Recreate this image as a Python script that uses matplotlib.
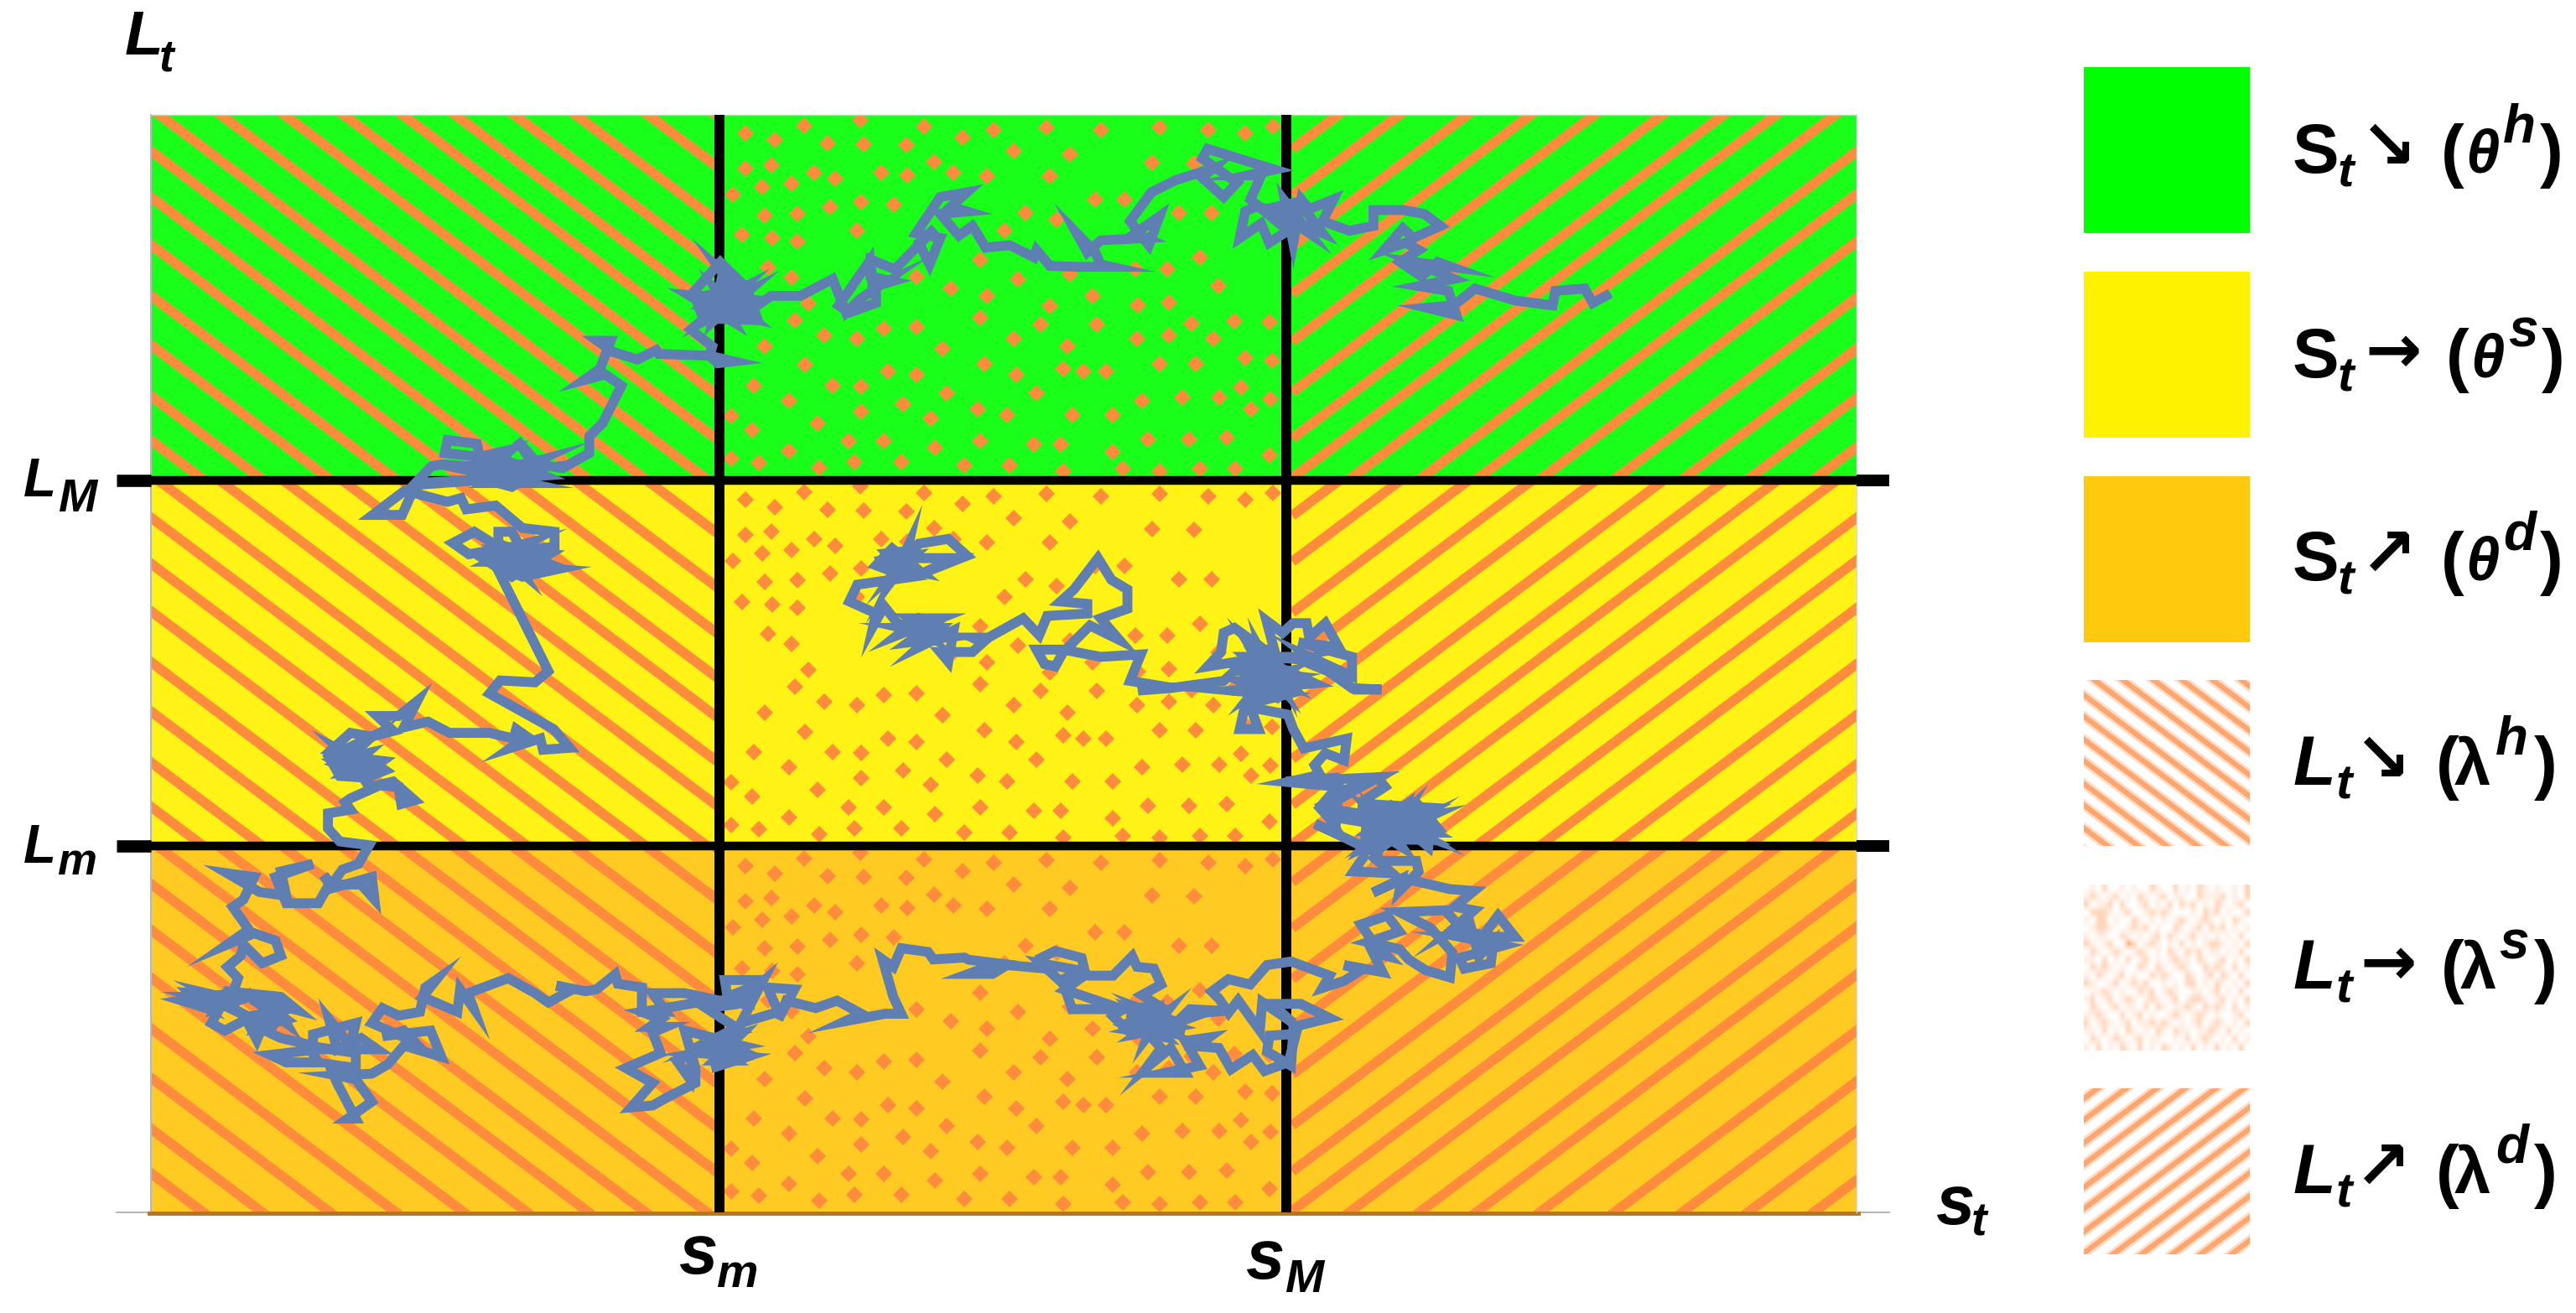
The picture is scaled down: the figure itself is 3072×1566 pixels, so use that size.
import numpy as np
import matplotlib
matplotlib.use('Agg')
import matplotlib.pyplot as plt
from matplotlib.colors import LinearSegmentedColormap
from matplotlib.patches import Rectangle

# layout is in units of the 1568x799 view
row_tops = [70, 293, 516]
row_height = 223
row_colors = ['#1aff1a', '#fff215', '#ffcb22']
stripe_color = '#ff8c3c'
path_color = '#5f7fb3'
slope = 0.75

# stripe intercepts at the left edge of a cell, relative to the top of the row
falling = [-288, -258, -227, -194, -166, -139, -115, -88, -61, -32, -4, 22, 50, 79, 110, 140, 171, 198, 228]
rising = [-10, 19, 47, 78, 107, 136, 167, 195, 219, 246, 278, 304, 333, 367, 398, 428, 458, 490]

dots_right = [(40,75),(160,88),(232,112),(290,95),(388,90),(490,95),(600,90),(692,95),(760,102),(812,88),
    (47,125),(127,127),(328,140),(432,147),(587,163),(665,165),(178,162),(80,185),(128,190),(215,185),
    (278,192),(395,192),(42,245),(103,250),(350,268),(408,282),(480,240),(535,240),(637,268),(698,268),
    (35,305),(310,305),(265,365),(145,400),(335,405),(432,395),(615,385),(675,360),(555,385),(210,425),
    (278,440),(475,440),(710,420),(395,462),(265,485),(560,460),(618,455),(660,498),(740,492),(805,495),
    (145,505),(85,508),(35,530),(328,530),(378,500),(482,500),(558,530),(618,522),(700,530),(195,550),
    (428,545),(760,570),(810,575),(272,582),(92,598),(145,605),(332,605),(420,592),(458,598),(500,598),
    (600,582),(668,582),(42,628),(752,630),(120,665),(202,643),(370,643),(568,658),(642,652),(712,652),
    (808,655),(42,680),(172,695),(260,675),(315,688),(438,688),(512,688),(772,675),(18,742),(85,742),
    (180,755),(265,742),(365,748),(415,748),(578,738),(655,738),(725,735),(30,785),(118,785),(235,793),
    (320,793),(512,765),(805,772),(420,805),(532,800),(600,805),(675,800),(742,800)]
dots_left = [(1237,355),(1292,375),(1347,335),(1390,382),(1237,450),(1285,440),(1365,462),(1405,478),
    (1213,520),(1268,500),(1323,490),(1273,575),(1335,570),(1395,553),(1230,628),(1287,635),(1335,645),
    (1280,715),(1323,742),(1355,810),(1330,855),(1385,895),(1273,925),(1348,975),(1253,1030),(1400,1030),
    (1318,1070),(1372,1130),(1250,1148),(1318,1205),(1210,1225),(1262,1235),(1375,1250),(1210,1110)]

# the walk, read piece by piece from four crops
walk_a = [(1435,440),(1410,455),(1395,425),(1340,430),(1335,460),(1265,450),(1190,425),(1150,460),(1100,465),
    (1155,480),(1140,430),(1085,420),(1150,405),(1075,370),(1145,380),(1120,370),(1090,400),(1050,370),(1085,345),
    (1060,330),(1020,345),(1055,300),(1075,320),(1125,295),(1095,270),(1055,262),(1000,262),(1000,295),(955,305),
    (905,285),(925,240),(880,260),(865,240),(850,330),(835,245),(880,310),(840,280),(905,310),(860,245),(800,260),
    (780,255),(760,265),(750,320),(790,290),(805,330),(840,305),(770,240),(790,190),(765,190),(815,178),(690,135),
    (680,155),(745,205),(720,235),(680,195),(700,175),(630,200),(585,225),(545,285),(580,335),(600,275),(555,310),
    (575,320),(490,325),(465,350),(445,310),(480,350),(490,375),(510,380),(450,380),(395,378),(370,345),(365,360),
    (320,335),(275,340),(250,295),(225,315),(190,270),(240,265),(210,255),(240,225),(190,235),(145,310),(190,320),
    (170,375),(150,330),(180,300),(105,385),(60,365),(60,400),(100,410),(70,420),(70,455),(20,475),(0,460)]
walk_b = [(1470,695),(1475,770),(1490,760),(1450,800),(1425,835),(1400,745),(1340,790),(1285,790),(1245,830),
    (1190,720),(1230,770),(1160,790),(1240,850),(1150,790),(1240,800),(1170,850),(1230,770),(1160,820),(1250,850),
    (1180,770),(1215,860),(1145,800),(1235,830),(1190,760),(1175,860),(1240,780),(1155,840),
    (1140,780),(1190,700),(1240,770),(1260,855),(1160,850),(1135,880),
    (1175,925),(1170,950),(1215,965),(1185,970),(1170,950),(1075,945),(1070,935),(1035,960),(990,940),(960,910),
    (985,910),(965,985),(935,1015),(975,1000),(1005,1030),(970,1130),(945,1165),(945,1210),(895,1250),(850,1240),
    (810,1175),(840,1240),(770,1240),(800,1200),(740,1220),(735,1185),(680,1175),(675,1210),(740,1220),(760,1250),
    (670,1240),(650,1245),(620,1290),(750,1280),(800,1300),(860,1250),(770,1265),(800,1260),(720,1280),(850,1230),
    (760,1290),(830,1290),(700,1250),(790,1230),(860,1270),(620,1295),(595,1375),(540,1375),
    (600,1310),(680,1340),(705,1330),(715,1360),(770,1350),(820,1410),(880,1420),(880,1460),(820,1470),(800,1420),
    (775,1420),(775,1460),(730,1420),(690,1450),(720,1480),(800,1460),(830,1450),(760,1500),(860,1500),(790,1460),
    (820,1530),(770,1470),(870,1480),(800,1540),(745,1490),(790,1510),(885,1520),(820,1540),(770,1510)]
walk_c = [(790,0),(765,30),(700,25),(680,60),(800,155),(830,205),(780,210),(775,180),(720,205),(750,175),(730,155),
    (725,180),(680,165),(605,165),(565,135),(520,150),(545,80),(510,120),(470,120),(500,160),(460,175),(420,165),
    (385,210),(430,215),(460,175),(380,230),(400,280),(450,285),(485,265),(450,230),(400,250),(440,270),(430,250),
    (400,210),(470,260),(410,270),(450,220),(390,240),(440,280),(480,240),(420,230),(455,310),
    (500,295),(540,345),(515,355),(510,310),(475,305),(420,340),(410,350),(420,370),(378,380),(378,420),(400,455),
    (455,465),(435,515),(405,530),(385,570),(370,545),(385,580),(460,550),(465,610),(440,570),(380,570),(360,620),
    (300,620),(280,550),(350,515),(290,535),(300,600),(250,590),(190,540),(240,550),(220,610),(200,630),(230,690),
    (190,730),(240,700),(280,720),(290,760),(255,780),(220,730),(215,760),(190,790),(210,820),(200,860),(105,880),
    (150,900),(120,860),(200,870),(130,870),(200,900),(150,860),(210,880),(170,900),(190,855),(290,870),(320,905),
    (280,890),(300,940),(240,880),(240,870),(300,930),(250,950),(290,880),(260,920),(310,900),(240,920),(280,960),
    (180,890),(160,940),(185,960),
    (225,930),(245,985),(270,900),(260,960),(290,980),(350,1000),(350,970),(430,940),(420,1000),(380,930),(395,1010),
    (440,980),(470,1010),(360,1010),(270,1025),(300,1045),(360,1045),(340,1000),(430,1020),(430,1060),(380,1050),
    (395,1100),(430,1195),(415,1195),(460,1150),(430,1090),(395,1080),(460,1075),(490,1050),(520,1000),(590,1030),
    (570,960),(480,975),(520,960),(540,990),(460,940),(480,900),(510,920),(550,910),(560,845),(580,825),(555,870),
    (620,910),(625,850),(650,900),(640,860),(715,820),(765,860),(790,885),(835,850),(805,840),(860,855),(880,850),
    (915,810),(920,835),(965,845),(965,910),(1010,910),(985,860),(1045,860),(1110,880),(1170,870),(1180,825),
    (1120,825),(1125,870),(1160,850),(1165,890),(1090,880),(965,910),(1000,930),(980,950),(1010,950),(985,965),
    (1000,1020),(935,1060),(985,1100),(945,1165),(985,1160),(1010,1140),(1065,1100),(1065,1060),(1045,960),(1100,980),
    (1060,1010),(1055,1090),(1030,1040),(1100,1000),(1150,1035),(1095,1060),(1160,1030),(1070,1020),(1150,1000),
    (1090,980),(1140,1040),(1100,1040),(1150,970),(1080,1000),(1130,960),(1110,1050),(1160,1020),(1100,980),(1150,960),
    (1085,900),(1140,890),(1190,830),(1150,940),(1220,910),(1200,845),(1250,850),(1220,930),(1235,880),(1290,900),
    (1330,880),(1375,915),(1345,935),(1420,915),(1450,915),(1435,870),(1415,770),(1435,790),(1450,740),(1500,750),
    (1510,770),(1568,765)]
walk_d = [(270,580),(330,590),(270,620),(320,620),(350,595),(430,605),(420,575),(450,555),(505,575),(510,605),
    (460,640),(420,590),(500,610),(520,625),(570,625),(610,570),(620,600),(655,605),(670,650),(630,680),(665,710),
    (600,720),(485,720),(470,660),(510,625),(470,665),(590,720),(570,740),(600,780),(680,800),(640,740),(720,780),
    (600,730),(700,770),(620,790),(680,730),(640,800),(660,720),(600,760),(700,790),(630,720),(690,750),(610,780),(660,790),
    (610,720),(700,760),(760,730),(800,725),(730,720),(700,760),(650,800),(670,830),(640,885),(690,830),(720,900),
    (680,900),(750,880),(720,810),(770,800),(745,825),(790,830),(815,890),(860,850),(885,895),(935,870),(950,790),
    (895,795),(890,840),(940,880),(945,770),(1020,745),(960,705),(900,705),(945,760),(880,700),(875,780),(830,695),
    (810,730),(790,690),(775,670),(810,635),(855,650),(890,595),(940,585),(1020,625),(1005,660),(1050,640),(1085,610),
    (1050,595),(1130,615),(1110,560),(1140,570),(1110,530),(1085,480),(1140,455),(1165,500),(1100,530),(1165,550),
    (1185,580),(1220,610),(1270,630),(1275,560),(1230,490),(1165,445),(1260,440),(1300,500),(1340,510),(1370,455),
    (1405,515),(1290,515),(1380,540),(1290,575),(1300,605),(1355,590),(1360,530),(1330,570),(1310,470),(1270,500),
    (1320,440),(1280,430),(1320,385),(1270,380),(1175,350),(1110,390),(1170,350),(1165,385),(1205,330),(1200,300),
    (1120,300),(1150,335),(1070,330),(1090,290),(1095,220),(1240,220),(1150,145),(1090,260),(1200,190),(1130,260),
    (1110,140),(1235,150),(1120,230),(1200,135),(1240,200),(1100,170),(1220,230),(1130,150),(1225,260),(1230,190),
    (1110,210),(1180,140),(1160,240),(1100,150),(1230,240),(1130,240),(1210,150),(1150,230),(1180,160),(1110,250),
    (1235,170),(1140,190),(1220,210),(1100,200),(1170,260),(1120,160),(1200,240),(1150,180),(1090,190),(1180,210),(1130,200),
    (1120,280),(1060,240),(990,195),(1040,225),(1020,180),(1000,150),(1030,110),
    (1120,65),(1135,90),(1090,130),(1085,180),(1040,170),(1005,140),(1030,100),(1030,65),(930,75)]
walk_e = [(1010,1440),(960,1470),(930,1490),(905,1500),(930,1530),(935,1460),(840,1450),(900,1435),(890,1415),
    (910,1390),(945,1405),(950,1360),(870,1380),(850,1340),(840,1310),(770,1295),(785,1340),(750,1340),(760,1290),
    (830,1270),(735,1260),(890,1245),(780,1190),(830,1280),(770,1170),(845,1250),(750,1210),(850,1190),(760,1190),
    (830,1260),(790,1180),(810,1270),(750,1240),(840,1220),(770,1270),(820,1200),(780,1250),(850,1230),(760,1220),
    (800,1180),(830,1240),(800,1115),
    (830,1140),(850,1120),(875,1120),(880,1150),(910,1120),(935,1170),(860,1160),(960,1190),(960,1230),(880,1190),
    (960,1255),(1015,1258),(965,1258),(915,1220),(860,1195),(800,1190),(690,1210),(715,1180),(720,1140),(740,1130),
    (790,1170),(720,1240),(620,1255),(560,1260),(600,1250),(545,1240),(565,1185),(490,1190),(420,1175),(370,1175),
    (385,1205),(405,1210),(420,1180),(470,1125),(525,1155),(490,1110),(540,1090),(540,1050),(510,1030),(485,985),
    (440,1050),(415,1075),(465,1080),(465,1100),(390,1105),(375,1145),(345,1110),(280,1150),(250,1150),(270,1160),
    (250,1180),(190,1180),(205,1200),(215,1135),(150,1170),(190,1130),(120,1130),(200,1150),(130,1160),(180,1120),
    (150,1110),(110,1145),(190,1110),(130,1110),(170,1150),
    (110,1120),(85,1085),(65,1125),(70,1100),(20,1075),(35,1040),(130,1025),(70,1000),(100,965),(155,1015),(85,1000),
    (80,990),(140,980),(100,1020),(130,970),(90,975),(120,1010),
    (130,960),(100,1030),(150,955),(205,945),(240,980),(160,1015),(215,985),(150,985)]

# legend
swatch_x = (1268.5, 1369.5)
swatch_tops = [41, 165.5, 290, 414, 538.5, 662.5]
swatch_height = 101
swatch_solid = ['#00ff00', '#fff200', '#ffc90e']
legend_falling = [-72, -59, -45, -32, -18, -5, 9, 22, 36, 49, 63, 76, 90, 103]
legend_rising = [6, 19, 33, 46, 60, 73, 87, 100, 114, 127, 141, 154, 168, 181]
speckle = ['0102001010021002010210100102',
           '1210120102101201100211120102',
           '2011202001201020212010210120',
           '0222101200121210001021201002',
           '1022010021010101210121010210',
           '0122100121201002101202120101',
           '1011002101012021012010101020',
           '2101200320121010201012210102',
           '0210121012101021021201101020',
           '1102010201201012110210120102',
           '0212101002102101210021210201',
           '1021012010021210021012021020',
           '2100120121200101022010210102',
           '0112101002120121001101201020',
           '1201201210121012012210120102',
           '0210120110202101121021210201',
           '1121002012010012101210100120',
           '2012101201121210101201210102',
           '1102010210102102110112102010',
           '0210121012011001020121010201',
           '1020102102010210102010201020']
legend_rows = [('S', '\u2198', '\u03b8', 'h', 1395.5, 1423, 1453.6, 1485.6, 1500.8, 1523.5, 1546, 105),
               ('S', '\u2192', '\u03b8', 's', 1395.5, 1423, 1457, 1489, 1504, 1527, 1547, 229.5),
               ('S', '\u2197', '\u03b8', 'd', 1395.5, 1423, 1453.6, 1485.6, 1500.8, 1523.5, 1546, 353),
               ('L', '\u2198', '\u03bb', 'h', 1395.5, 1422, 1450, 1482.6, 1493.7, 1519, 1542.3, 477.7),
               ('L', '\u2192', '\u03bb', 's', 1395.5, 1422, 1453.5, 1485.6, 1497.4, 1521, 1542.3, 601.7),
               ('L', '\u2197', '\u03bb', 'd', 1395.5, 1422, 1450, 1482.6, 1493.7, 1519, 1542.3, 726)]


def from_crop(points, x0, y0, w, h):
    # crop reading -> 1568x799 view
    pts = np.array(points, dtype=float)
    return (x0 + pts[:, 0] * w / 1568) / 1.959, (y0 + pts[:, 1] * h / 1568) / 1.959


plt.rcParams['font.family'] = ['Liberation Sans', 'DejaVu Sans']
fig = plt.figure(figsize=(30.72, 15.66), dpi=100)
ax = fig.add_axes([0, 0, 1, 1])

# cells
dx1, dy1 = from_crop(dots_right, 1000, 100, 1000, 900)
dx2, dy2 = from_crop(dots_left, 100, 0, 1000, 700)
dot_x = np.concatenate([dx1, dx2])
dot_y = np.concatenate([dy1, dy2])
for r, top in enumerate(row_tops):
    ax.add_patch(Rectangle((92, top), 1038, row_height, fc=row_colors[r], ec='none', zorder=1))
    cell = Rectangle((92, top), 346, row_height, transform=ax.transData)
    for ic in falling:
        xs = np.array([92, 438])
        line, = ax.plot(xs, top + ic + slope * (xs - 92), color=stripe_color, lw=8.5, zorder=2)
        line.set_clip_path(cell)
    dots, = ax.plot(dot_x, dot_y + 223 * r, 'D', color=stripe_color, ms=10, mew=0, zorder=2)
    dots.set_clip_path(Rectangle((438, top), 345, row_height, transform=ax.transData))
    cell = Rectangle((783, top), 347, row_height, transform=ax.transData)
    for ic in rising:
        xs = np.array([789, 1130])
        line, = ax.plot(xs, top + ic - slope * (xs - 789), color=stripe_color, lw=8.5, zorder=2)
        line.set_clip_path(cell)

# frame lines
ax.plot([92, 92], [70, 738], color='#b8b8b8', lw=1.5, zorder=3)
ax.plot([92, 1130], [70, 70], color='#9ce89c', lw=1, zorder=3)
ax.plot([71, 1150], [738, 738], color='#b8b8b8', lw=1.5, zorder=3)
ax.plot([91, 1131], [738.5, 738.5], color='#b5761f', lw=3.5, zorder=3)
ax.plot([1130, 1130], [70, 738], color='#d8d8d8', lw=1, zorder=3)

# thresholds
for x in [438, 783]:
    ax.plot([x, x], [70, 738], color='black', lw=8.6, solid_capstyle='butt', zorder=4)
for y in [292.5, 515]:
    ax.plot([92, 1130], [y, y], color='black', lw=7.5, solid_capstyle='butt', zorder=4)
    ax.plot([71, 92], [y, y], color='black', lw=10.5, solid_capstyle='butt', zorder=4)
    ax.plot([1130, 1150], [y, y], color='black', lw=10, solid_capstyle='butt', zorder=4)

# walk
walk_x, walk_y = [], []
for piece, crop in [(walk_a, (1000, 100, 1000, 900)), (walk_b, (100, 0, 1000, 700)),
                    (walk_c, (150, 800, 1000, 700)), (walk_d, (1000, 900, 900, 660))]:
    px, py = from_crop(piece, *crop)
    walk_x.extend(px)
    walk_y.extend(py)
ex, ey = from_crop(walk_e, 1000, 100, 1000, 900)
walk_x.extend(ex)
walk_y.extend(ey)
ax.plot(walk_x, walk_y, color=path_color, lw=8.5, solid_joinstyle='miter', zorder=5)

# axis labels
def label(x, y, main, sub, size, sub_x, sub_y, sub_size):
    ax.text(x, y, main, fontsize=size, fontweight='bold', fontstyle='italic', va='baseline', ha='left', zorder=6)
    ax.text(sub_x, sub_y, sub, fontsize=sub_size, fontweight='bold', fontstyle='italic', va='baseline', ha='left', zorder=6)


label(76, 33, 'L', 't', 54, 97, 43, 38)
label(14, 302, 'L', 'M', 46, 35, 311, 40)
label(14, 525, 'L', 'm', 46, 35, 532, 38)
label(413, 775, 's', 'm', 60, 436, 783, 40)
label(758, 778, 's', 'M', 60, 782, 786, 40)
label(1178, 745, 's', 't', 60, 1200, 752, 40)

# legend swatches
for top, color in zip(swatch_tops[:3], swatch_solid):
    ax.add_patch(Rectangle((swatch_x[0], top), swatch_x[1] - swatch_x[0], swatch_height, fc=color, ec='none'))
xs = np.array(swatch_x)
for top, lines, sign in [(swatch_tops[3], legend_falling, 1), (swatch_tops[5], legend_rising, -1)]:
    box = Rectangle((swatch_x[0], top), 101, swatch_height, transform=ax.transData)
    for ic in lines:
        for width, color in [(8.5, '#ffdcc6'), (4.5, '#ffa66e')]:
            line, = ax.plot(xs, top + ic + sign * slope * (xs - xs[0]), color=color, lw=width)
            line.set_clip_path(box)
grid = np.array([[int(c) for c in row] for row in speckle])
speckle_cmap = LinearSegmentedColormap.from_list('speckle', ['#ffffff', '#fff0e6', '#ffd7bd', '#ffa66e', '#ff8c40'])
ax.imshow(grid, cmap=speckle_cmap, vmin=0, vmax=4, aspect='auto', interpolation='bilinear',
          extent=(swatch_x[0], swatch_x[1], swatch_tops[4] + swatch_height, swatch_tops[4]), zorder=2)

# legend texts
for main, arrow, greek, sup, x0, xt, xa, xo, xg, xs_, xc, base in legend_rows:
    ax.text(x0, base, main, fontsize=60, fontweight='bold', fontstyle='italic' if main == 'L' else 'normal',
            va='baseline', ha='left')
    ax.text(xt, base + 8.3, 't', fontsize=42, fontweight='bold', fontstyle='italic', va='baseline', ha='left')
    ax.text(xa, base - 14, arrow, fontsize=58, fontweight='bold', family='DejaVu Sans', va='center', ha='center')
    ax.text(xo, base + 1, '(', fontsize=60, fontweight='bold', va='baseline', ha='left')
    ax.text(xg, base, greek, fontsize=52 if greek == '\u03b8' else 56, fontweight='bold',
            fontstyle='italic' if greek == '\u03b8' else 'normal', va='baseline', ha='left')
    ax.text(xs_, base - 18.5, sup, fontsize=46, fontweight='bold', fontstyle='italic', va='baseline', ha='left')
    ax.text(xc, base + 1, ')', fontsize=60, fontweight='bold', va='baseline', ha='left')

ax.set_xlim(0, 1568)
ax.set_ylim(799, 0)
ax.axis('off')
fig.savefig('out.png', dpi=100)
